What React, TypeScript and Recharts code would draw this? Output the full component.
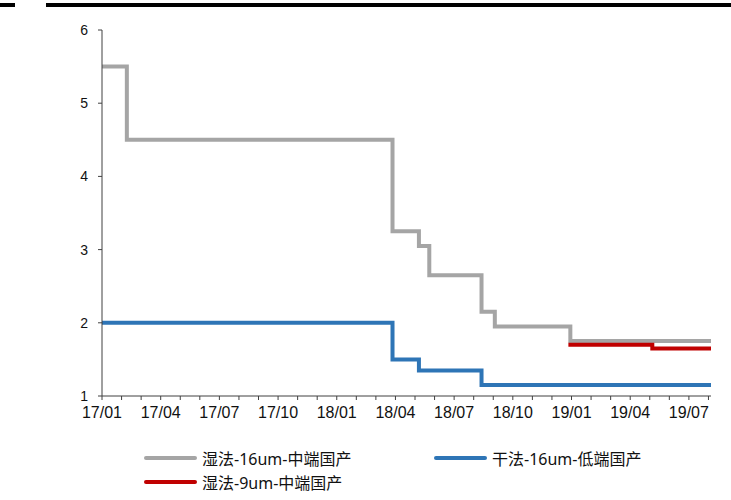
import { LineChart, Line, XAxis, YAxis } from "recharts";

// x values are months since 2017-01 (fractional = mid-month change)
const MONTH_LABELS = ["17/01", "17/04", "17/07", "17/10", "18/01", "18/04", "18/07", "18/10", "19/01", "19/04", "19/07"];
const X_END = 31.13;

const wet16X = [0, 1.27, 14.85, 16.2, 16.73, 19.4, 20.08, 23.94, X_END];
const wet16Y = [5.5, 4.5, 3.25, 3.05, 2.65, 2.15, 1.95, 1.75, 1.75];

const dry16X = [0, 14.85, 16.2, 19.4, X_END];
const dry16Y = [2.0, 1.5, 1.35, 1.15, 1.15];

const wet9X = [23.84, 28.13, X_END];
const wet9Y = [1.7, 1.65, 1.65];

const SERIES = [
  { name: "湿法-16um-中端国产", xs: wet16X, ys: wet16Y, color: "#a5a5a5" },
  { name: "干法-16um-低端国产", xs: dry16X, ys: dry16Y, color: "#2e75b6" },
  { name: "湿法-9um-中端国产", xs: wet9X, ys: wet9Y, color: "#c00000" },
];

const toRows = (xs: number[], ys: number[]) => xs.map((x, i) => ({ x, v: ys[i] }));

const monthTicks = Array.from({ length: 32 }, (_, i) => i);
const fmtMonth = (m: number) => (m % 3 === 0 ? MONTH_LABELS[m / 3] ?? "" : "");

const FONT = '"Noto Sans", "Noto Sans CJK SC", sans-serif';
const TICK_FONT = '"Liberation Sans", Arial, sans-serif';
const AXIS = "#404040";

export default function App() {
  return (
    <div style={{ position: "absolute", left: 0, top: 0, width: 731, height: 500, background: "#fff", fontFamily: FONT }}>
      <div style={{ position: "absolute", left: 0, top: 3, width: 15, height: 4, background: "#000" }} />
      <div style={{ position: "absolute", left: 46, top: 3, width: 685, height: 4, background: "#000" }} />

      <div style={{ position: "absolute", left: 0, top: 0 }}>
        <LineChart width={731} height={432} margin={{ top: 30, right: 20, bottom: 6, left: 62 }}>
          <XAxis
            type="number"
            dataKey="x"
            domain={[0, X_END]}
            ticks={monthTicks}
            interval={0}
            tickFormatter={fmtMonth}
            allowDataOverflow
            stroke={AXIS}
            tickSize={4}
            tickMargin={7}
            height={30}
            tick={{ fill: "#111", fontSize: 16, fontFamily: TICK_FONT }}
          />
          <YAxis
            type="number"
            domain={[1, 6]}
            ticks={[1, 2, 3, 4, 5, 6]}
            interval={0}
            stroke={AXIS}
            tickSize={4}
            tickMargin={10}
            width={40}
            tick={{ fill: "#111", fontSize: 14, fontFamily: TICK_FONT }}
          />
          {SERIES.map((s) => (
            <Line
              key={s.name}
              data={toRows(s.xs, s.ys)}
              dataKey="v"
              name={s.name}
              type="stepAfter"
              stroke={s.color}
              strokeWidth={4}
              dot={false}
              isAnimationActive={false}
            />
          ))}
        </LineChart>
      </div>

      {SERIES.map((s, i) => {
        const left = i === 1 ? 434 : 144;
        const top = i === 2 ? 482 : 458;
        return (
          <div key={s.name} style={{ position: "absolute", left, top: top - 11, height: 22, display: "flex", alignItems: "center", fontSize: 16, color: "#111", whiteSpace: "nowrap" }}>
            <div style={{ width: 53, height: 4, background: s.color, marginRight: 5, borderRadius: 2 }} />
            <span>{s.name}</span>
          </div>
        );
      })}
    </div>
  );
}
